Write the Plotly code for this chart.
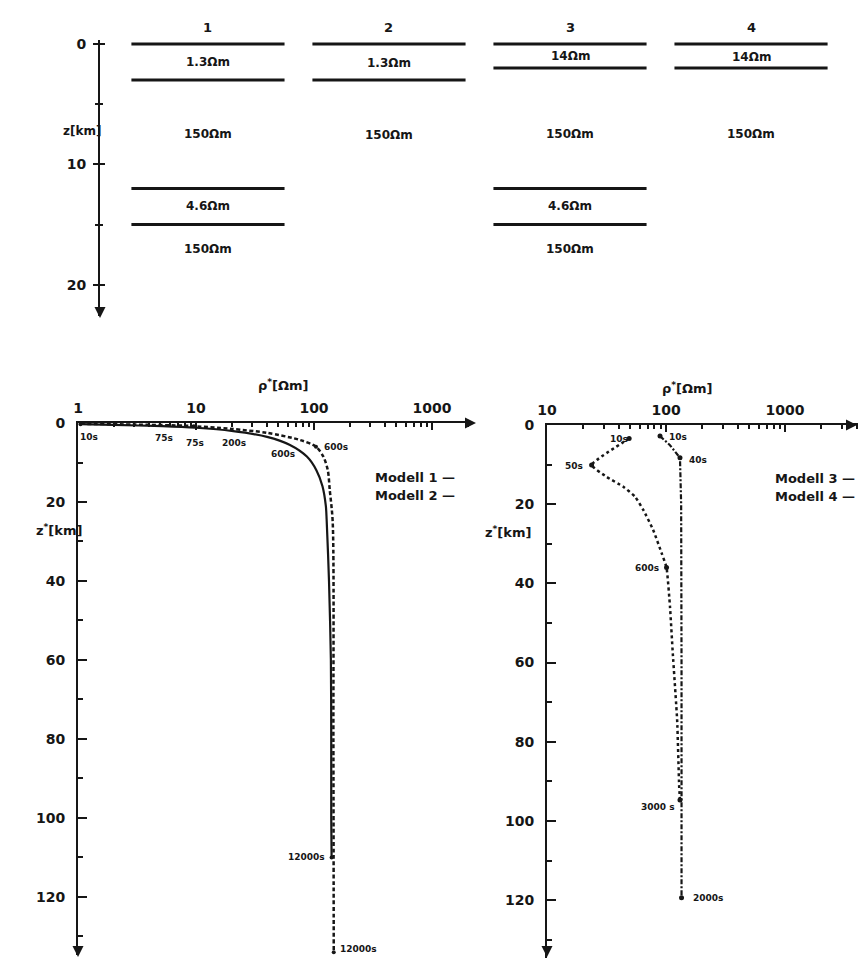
import math
import plotly.graph_objects as go

W, H = 858, 958
INK = "#161616"
FONT = "DejaVu Sans"

# ---------------- data: layered models (top panel) ----------------
models = ["1", "2", "3", "4"]
boundaries = {            # layer boundaries, km
    "1": [0, 3, 12, 15],
    "2": [0, 3],
    "3": [0, 2, 12, 15],
    "4": [0, 2],
}
layer_labels = {          # (label, depth of label in km)
    "1": [("1.3Ωm", 1.5), ("150Ωm", 7.5), ("4.6Ωm", 13.5), ("150Ωm", 17.0)],
    "2": [("1.3Ωm", 1.6), ("150Ωm", 7.6)],
    "3": [("14Ωm", 1.0), ("150Ωm", 7.5), ("4.6Ωm", 13.5), ("150Ωm", 17.0)],
    "4": [("14Ωm", 1.1), ("150Ωm", 7.5)],
}
depth_ticks_top = [0, 10, 20]
depth_minor_top = [5, 15]

# ---------------- data: rho* - z* curves ----------------
m1_rho = [1.05, 2.0, 5.2, 10, 20, 40, 62, 87, 105, 118, 126, 128, 134, 139, 140, 140, 141]
m1_z   = [0.3, 0.5, 0.8, 1.2, 2.0, 3.5, 5.5, 8.5, 12, 16, 21, 24.5, 40, 60, 80, 100, 110]
m2_rho = [1.05, 3.0, 8.3, 20, 40, 76, 104, 120, 131, 136, 144, 146, 147]
m2_z   = [0.2, 0.4, 0.7, 1.5, 2.5, 4.3, 6.0, 8.5, 12, 17, 25, 80, 134]
m3_rho = [49, 23.7, 31.7, 43.8, 55, 64.6, 78, 92, 101, 108, 114, 124, 129, 131]
m3_z   = [3.4, 10.1, 13.1, 15.6, 18.1, 21.5, 26.5, 32.4, 36.0, 45.9, 57.7, 74.5, 91.3, 94.7]
m4_rho = [89, 108, 131, 134, 135, 135]
m4_z   = [2.8, 5.1, 8.3, 20, 60, 119.4]

# marked period points
m1_mark_rho = [1.05, 141]
m1_mark_z   = [0.3, 110]
m2_mark_rho = [9.6, 104, 147]
m2_mark_z   = [0.8, 6.0, 134]
m3_mark_rho = [49, 23.7, 101, 131]
m3_mark_z   = [3.4, 10.1, 36.0, 94.7]
m4_mark_rho = [89, 131, 135]
m4_mark_z   = [2.8, 8.3, 119.4]

# period labels (text, rho, z)
left_period_labels = [("10s", 1.23, 3.5), ("75s", 5.35, 3.8), ("75s", 9.8, 5.1),
                      ("200s", 21, 5.1), ("600s", 54.6, 7.8), ("600s", 153, 6.0),
                      ("12000s", 87, 110), ("12000s", 240, 133.2)]
right_period_labels = [("10s", 40.6, 3.6), ("10s", 126, 3.0), ("50s", 16.9, 10.4),
                       ("40s", 184, 8.8), ("600s", 69, 36.1), ("3000 s", 85, 96.5),
                       ("2000s", 227, 119.4)]

rho_ticks_left = [1, 10, 100, 1000]
rho_ticks_right = [10, 100, 1000]
z_ticks = [0, 20, 40, 60, 80, 100, 120]
z_minor = [10, 30, 50, 70, 90, 110, 130]

# ---------------- layout helpers ----------------
def px_x(p): return p / W
def px_y(p): return 1 - p / H

LAYER_HALF = 0.423
fig = go.Figure()

# top panel: layer boundaries
for m in models:
    xs, ys = [], []
    c = int(m)
    for d in boundaries[m]:
        xs += [c - LAYER_HALF, c + LAYER_HALF, None]
        ys += [d, d, None]
    fig.add_trace(go.Scatter(x=xs, y=ys, mode="lines", line=dict(color=INK, width=3),
                             xaxis="x", yaxis="y", showlegend=False, hoverinfo="skip"))
# dummy trace for overlay tick axis
fig.add_trace(go.Scatter(x=[1], y=[0], mode="markers", marker=dict(opacity=0),
                         xaxis="x", yaxis="y4", showlegend=False, hoverinfo="skip"))

ann = []
bold = dict(family=FONT, color=INK, weight="bold")
for m in models:
    c = int(m)
    ann.append(dict(x=c, y=px_y(18), xref="x", yref="paper", text=m, showarrow=False,
                    font=dict(size=13, **bold)))
    for t, d in layer_labels[m]:
        ann.append(dict(x=c, y=d, xref="x", yref="y", text=t, showarrow=False,
                        font=dict(size=12, **bold)))

# bottom-left curves
fig.add_trace(go.Scatter(x=m1_rho, y=m1_z, mode="lines", line=dict(color=INK, width=2.2, shape="spline", smoothing=0.8),
                         xaxis="x2", yaxis="y2", showlegend=False))
fig.add_trace(go.Scatter(x=m2_rho, y=m2_z, mode="lines", line=dict(color=INK, width=2.5, dash="4px,2.5px", shape="spline", smoothing=0.8),
                         xaxis="x2", yaxis="y2", showlegend=False))
fig.add_trace(go.Scatter(x=m1_mark_rho + m2_mark_rho, y=m1_mark_z + m2_mark_z, mode="markers",
                         marker=dict(color=INK, size=4), xaxis="x2", yaxis="y2", showlegend=False))
# bottom-right curves
fig.add_trace(go.Scatter(x=m3_rho, y=m3_z, mode="lines", line=dict(color=INK, width=2.5, dash="dot", shape="spline", smoothing=0.4),
                         xaxis="x3", yaxis="y3", showlegend=False))
fig.add_trace(go.Scatter(x=m4_rho, y=m4_z, mode="lines", line=dict(color=INK, width=2.2, dash="5px,2px,2px,2px"),
                         xaxis="x3", yaxis="y3", showlegend=False))
fig.add_trace(go.Scatter(x=m3_mark_rho + m4_mark_rho, y=m3_mark_z + m4_mark_z, mode="markers",
                         marker=dict(color=INK, size=5), xaxis="x3", yaxis="y3", showlegend=False))

for t, r, z in left_period_labels:
    ann.append(dict(x=math.log10(r), y=z, xref="x2", yref="y2", text=t, showarrow=False,
                    font=dict(size=9, **bold)))
for t, r, z in right_period_labels:
    ann.append(dict(x=math.log10(r), y=z, xref="x3", yref="y3", text=t, showarrow=False,
                    font=dict(size=9, **bold)))

# legends (text)
for t, yy in [("Modell 1 —", 477), ("Modell 2 —", 496)]:
    ann.append(dict(x=px_x(373), y=px_y(yy), xref="paper", yref="paper", text=t, xanchor="left",
                    showarrow=False, font=dict(size=13, **bold)))
for t, yy in [("Modell 3 —", 478), ("Modell 4 —", 497)]:
    ann.append(dict(x=px_x(773), y=px_y(yy), xref="paper", yref="paper", text=t, xanchor="left",
                    showarrow=False, font=dict(size=13, **bold)))

# axis titles
ann += [
    dict(x=px_x(61), y=px_y(122), xref="paper", yref="paper", text="z[km]", showarrow=False, font=dict(size=12, **bold)),
    dict(x=px_x(256), y=px_y(385), xref="paper", yref="paper", text="ρ<sup>*</sup>[Ωm]", showarrow=False, font=dict(size=13, **bold)),
    dict(x=px_x(715), y=px_y(388), xref="paper", yref="paper", text="ρ<sup>*</sup>[Ωm]", showarrow=False, font=dict(size=13, **bold)),
    dict(x=px_x(34), y=px_y(530), xref="paper", yref="paper", text="z<sup>*</sup>[km]", showarrow=False, font=dict(size=13, **bold)),
    dict(x=px_x(508), y=px_y(532), xref="paper", yref="paper", text="z<sup>*</sup>[km]", showarrow=False, font=dict(size=13, **bold)),
]

# axis arrowheads
def arrow(xp, yp, dx, dy):
    return dict(x=px_x(xp), y=px_y(yp), xref="paper", yref="paper", ax=dx, ay=dy, axref="pixel", ayref="pixel",
                showarrow=True, arrowhead=2, arrowsize=1.1, arrowwidth=2, arrowcolor=INK, text="", standoff=0)
ann += [arrow(100, 318, 0, -12), arrow(78, 957, 0, -12), arrow(476, 423, -12, 0),
        arrow(547, 958, 0, -12), arrow(858, 425, -12, 0)]

tickfont = dict(size=14, **bold)
axis_common = dict(showgrid=False, zeroline=False, showline=True, linecolor=INK, linewidth=2,
                   tickcolor=INK, tickwidth=2, tickfont=tickfont, automargin=False)

fig.update_layout(
    width=W, height=H, margin=dict(l=0, r=0, t=0, b=0, pad=0, autoexpand=False),
    paper_bgcolor="white", plot_bgcolor="rgba(0,0,0,0)", showlegend=False,
    annotations=ann,
    xaxis=dict(domain=[px_x(100), 1.0], range=[0.4035, 4.591], visible=False, anchor="y", automargin=False),
    yaxis=dict(domain=[px_y(316), px_y(40)], range=[22.6, -0.333], anchor="x",
               tickvals=depth_ticks_top, ticks="outside", ticklen=5, ticklabelstandoff=4,
               minor=dict(tickvals=depth_minor_top, ticks="outside", ticklen=3, tickwidth=2, tickcolor=INK),
               **axis_common),
    yaxis4=dict(domain=[px_y(316), px_y(40)], range=[22.6, -0.333], anchor="x", overlaying="y",
                tickvals=depth_ticks_top, ticks="inside", ticklen=5, showticklabels=False,
                minor=dict(tickvals=depth_minor_top, ticks="inside", ticklen=3, tickwidth=2, tickcolor=INK),
                **axis_common),
    xaxis2=dict(domain=[px_x(78), px_x(472)], type="log", range=[0, 3.339], side="top", anchor="y2",
                tickvals=rho_ticks_left, ticktext=[str(v) for v in rho_ticks_left], ticks="inside", ticklen=7,
                ticklabelstandoff=2,
                minor=dict(tickvals=[k * 10 ** e for e in range(0, 4) for k in range(2, 10) if k * 10 ** e < 2100],
                           ticks="inside", ticklen=4, tickwidth=1.5, tickcolor=INK),
                **axis_common),
    yaxis2=dict(domain=[px_y(955), px_y(423)], range=[134.7, 0], anchor="x2",
                tickvals=z_ticks, ticks="inside", ticklen=9, ticklabelstandoff=8,
                minor=dict(tickvals=z_minor, ticks="inside", ticklen=5, tickwidth=2, tickcolor=INK),
                **axis_common),
    xaxis3=dict(domain=[px_x(547), 1.0], type="log", range=[1, 3.613], side="top", anchor="y3",
                tickvals=rho_ticks_right, ticktext=[str(v) for v in rho_ticks_right], ticks="inside", ticklen=7,
                ticklabelstandoff=2,
                minor=dict(tickvals=[k * 10 ** e for e in range(1, 4) for k in range(2, 10)],
                           ticks="inside", ticklen=4, tickwidth=1.5, tickcolor=INK),
                **axis_common),
    yaxis3=dict(domain=[0.0, px_y(425)], range=[134.6, 0], anchor="x3",
                tickvals=z_ticks, ticks="inside", ticklen=9, ticklabelstandoff=8,
                minor=dict(tickvals=z_minor, ticks="inside", ticklen=5, tickwidth=2, tickcolor=INK),
                **axis_common),
)

fig.write_html("out.html", config={"displayModeBar": False},
               post_script="document.body.style.margin='0';document.body.style.overflow='hidden';")
